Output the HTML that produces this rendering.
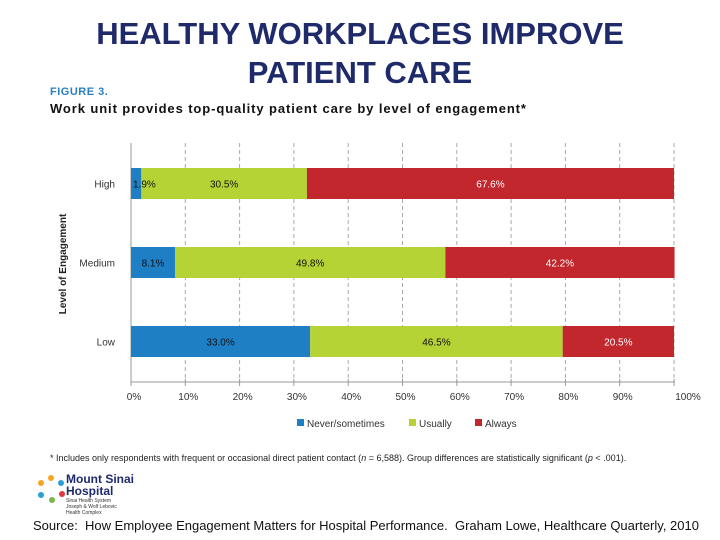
<!DOCTYPE html>
<html><head><meta charset="utf-8"><style>
body{margin:0;background:#fff;width:720px;height:540px;overflow:hidden;font-family:"Liberation Sans",sans-serif;position:relative}
.t{position:absolute;white-space:nowrap}
</style></head><body>
<div class="t" style="left:0;width:720px;text-align:center;top:14px;font-size:31px;font-weight:bold;line-height:39px;color:#1f2a6b">HEALTHY WORKPLACES IMPROVE<br>PATIENT CARE</div>
<div class="t" style="left:50px;top:86px;font-size:11px;font-weight:bold;letter-spacing:0.5px;color:#2a7fc0">FIGURE 3.</div>
<div class="t" style="left:50px;top:101px;font-size:13px;font-weight:bold;letter-spacing:0.9px;color:#111">Work unit provides top-quality patient care by level of engagement*</div>
<svg id="c" width="720" height="540" style="position:absolute;left:0;top:0"></svg>
<div class="t" style="left:50px;top:453px;font-size:9px;color:#222">* Includes only respondents with frequent or occasional direct patient contact (<i>n</i> = 6,588). Group differences are statistically significant (<i>p</i> &lt; .001).</div>
<svg width="30" height="30" style="position:absolute;left:36px;top:474px">
<circle cx="15" cy="4" r="3" fill="#f5a623"/><circle cx="25" cy="9" r="3" fill="#2a9fd6"/><circle cx="26" cy="20" r="3" fill="#e03a3e"/><circle cx="16" cy="26" r="3" fill="#7ab648"/><circle cx="5" cy="21" r="3" fill="#2a9fd6"/><circle cx="5" cy="9" r="3" fill="#f5a623"/></svg>
<div class="t" style="left:66px;top:473px;font-size:12px;font-weight:bold;line-height:12px;color:#1f2a6b">Mount Sinai<br>Hospital</div>
<div class="t" style="left:66px;top:498px;font-size:5px;line-height:6px;color:#333">Sinai Health System<br>Joseph &amp; Wolf Lebovic<br>Health Complex</div>
<div class="t" style="left:33px;top:518px;font-size:13px;color:#111">Source:&nbsp; How Employee Engagement Matters for Hospital Performance.&nbsp; Graham Lowe, Healthcare Quarterly, 2010</div>
<script>
const categories=["High","Medium","Low"];
const never=[1.9,8.1,33.0];
const usually=[30.5,49.8,46.5];
const always=[67.6,42.2,20.5];
const ticks=[0,10,20,30,40,50,60,70,80,90,100];
const seriesNames=["Never/sometimes","Usually","Always"];
const colors=["#1f7fc4","#b5d334","#c1272d"];
const svg=document.getElementById('c');
const NS='http://www.w3.org/2000/svg';
const x=v=>131+v*5.43;
const yc=i=>183.5+i*79;
function mk(t,a,txt){const e=document.createElementNS(NS,t);for(const k in a)e.setAttribute(k,a[k]);if(txt!=null)e.textContent=txt;svg.appendChild(e);return e;}
ticks.forEach(t=>{if(t>0){const g=mk('line',{x1:x(t),x2:x(t),y1:143,y2:382,stroke:'#aaa','stroke-dasharray':'4,3'});

}
const tk=mk('line',{x1:x(t),x2:x(t),y1:379,y2:386,stroke:'#999'});


const l=mk('text',{x:x(t)+(t==100?14:3),y:400,'font-size':10,'text-anchor':'middle',fill:'#333'},t+'%');

});
const ax=mk('line',{x1:131,x2:675,y1:382,y2:382,stroke:'#999'});


const ay=mk('line',{x1:131,x2:131,y1:143,y2:382,stroke:'#999'});


const yt=mk('text',{x:0,y:0,'font-size':10,'font-weight':'bold',fill:'#222','text-anchor':'middle',transform:'translate(66,264) rotate(-90)'},'Level of Engagement');


const labels=[];
categories.forEach((c,i)=>{
const cl=mk('text',{x:115,y:yc(i)+4,'font-size':10,'text-anchor':'end',fill:'#333'},c);


let s=0;[never[i],usually[i],always[i]].forEach((v,k)=>{
const r=mk('rect',{x:x(s),y:yc(i)-15.5,width:x(s+v)-x(s),height:31,fill:colors[k]});


const small=(k==0&&v<5);
labels.push([small?x(s)+2:(x(s)+x(s+v))/2,yc(i)+4,small?'start':'middle',k==2?'#fff':'#111',v.toFixed(1)+'%']);
s+=v;});});
labels.forEach(L=>{
const tl=mk('text',{x:L[0],y:L[1],'font-size':10,'text-anchor':L[2],fill:L[3]},L[4]);

});
const lx=[297,409,475];
seriesNames.forEach((n,k)=>{
const r=mk('rect',{x:lx[k],y:419,width:7,height:7,fill:colors[k]});


const t=mk('text',{x:lx[k]+10,y:427,'font-size':10,fill:'#333'},n);

});
</script>
</body></html>
